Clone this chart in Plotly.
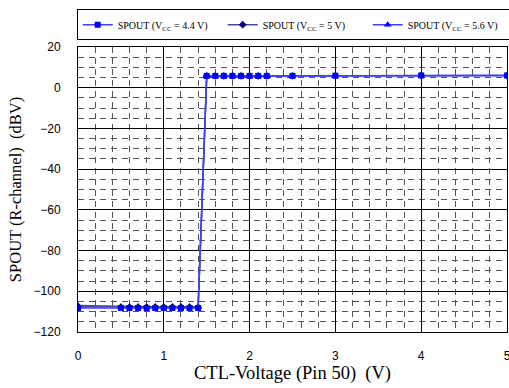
import plotly.graph_objects as go

x_vals = [0, 0.5, 0.6, 0.7, 0.8, 0.9, 1.0, 1.1, 1.2, 1.3, 1.4,
          1.5, 1.6, 1.7, 1.8, 1.9, 2.0, 2.1, 2.2, 2.5, 3.0, 4.0, 5.0]
y_44 = [-108.2, -108.2, -108.2, -108.2, -108.2, -108.2, -108.2, -108.2, -108.2, -108.2, -108.2,
        5.8, 5.8, 5.8, 5.8, 5.8, 5.8, 5.8, 5.8, 5.8, 5.9, 6.0, 6.0]
y_50 = [-107.6, -107.8, -107.8, -107.8, -107.8, -107.8, -107.8, -107.8, -107.8, -107.8, -107.8,
        5.8, 5.8, 5.8, 5.8, 5.8, 5.8, 5.8, 5.8, 5.8, 5.9, 6.0, 6.0]
y_56 = [-107.0, -107.6, -107.6, -107.6, -107.6, -107.6, -107.6, -107.6, -107.6, -107.6, -107.6,
        5.8, 5.8, 5.8, 5.8, 5.8, 5.8, 5.8, 5.8, 5.8, 5.9, 6.0, 6.0]

names = ["SPOUT (V<sub>CC</sub> = 4.4 V)", "SPOUT (V<sub>CC</sub> = 5 V)", "SPOUT (V<sub>CC</sub> = 5.6 V)"]
y_ticks = [-120, -100, -80, -60, -40, -20, 0, 20]
x_ticks = [0, 1, 2, 3, 4, 5]
x_title = "CTL-Voltage (Pin 50)\u00a0\u00a0(V)"
y_title = "SPOUT (R-channel)\u00a0\u00a0(dBV)\u00a0\u00a0\u00a0\u00a0"

fig = go.Figure()
series = [
    (names[0], y_44, "square", "#4040FF", "#0000FF", 6),
    (names[1], y_50, "diamond", "#4A4A9A", "#000080", 6),
    (names[2], y_56, "triangle-up", "#4040FF", "#0000FF", 7),
]
traces = []
for i, (nm, ys, sym, lc, mc, ms) in enumerate(series):
    traces.append(go.Scatter(
        x=x_vals, y=ys, name=nm, mode="lines+markers",
        line=dict(color=lc, width=1.5),
        marker=dict(symbol=sym, color=mc, size=ms),
        legendrank=i + 1,
    ))
for t in reversed(traces):
    fig.add_trace(t)

fig.update_layout(
    width=509, height=388,
    margin=dict(l=78, r=2, t=47, b=56, autoexpand=False),
    paper_bgcolor="white", plot_bgcolor="white",
    showlegend=True,
    legend=dict(
        orientation="h", x=-0.003, xanchor="left", y=1.024, yanchor="bottom",
        bordercolor="black", borderwidth=1,
        font=dict(family="Liberation Serif", size=10, color="black"),
        entrywidth=100, entrywidthmode="pixels", itemwidth=30,
        traceorder="normal",
    ),
    font=dict(family="Liberation Sans", size=12, color="black"),
)
fig.update_xaxes(
    range=[0, 5], tickvals=x_ticks, ticks="", ticklabelstandoff=13,
    ticklabeloverflow="allow", automargin=False,
    showline=True, linecolor="black", linewidth=1, mirror=True,
    showgrid=True, gridcolor="black", gridwidth=1,
    minor=dict(dtick=0.2, showgrid=True, gridcolor="#555555", griddash="6px,5px", gridwidth=1),
    zeroline=False,
    title=dict(text=x_title, font=dict(family="Liberation Serif", size=18.5), standoff=3),
    tickfont=dict(family="Liberation Sans", size=12),
)
fig.update_yaxes(
    range=[-120, 20], tickvals=y_ticks, ticks="", ticklabelstandoff=14,
    automargin=False,
    showline=True, linecolor="black", linewidth=1, mirror=True,
    showgrid=True, gridcolor="black", gridwidth=1,
    minor=dict(dtick=5, showgrid=True, gridcolor="#555555", griddash="6px,5px", gridwidth=1),
    zeroline=False,
    title=dict(text=y_title, font=dict(family="Liberation Serif", size=16.5), standoff=7),
    tickfont=dict(family="Liberation Sans", size=12),
)
fig.write_html("out.html", config={"displayModeBar": False},
               post_script="document.body.style.margin='0px';")
